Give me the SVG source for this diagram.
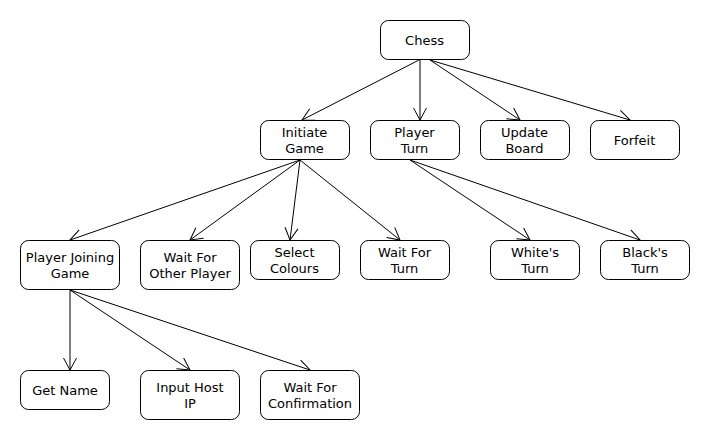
<svg xmlns="http://www.w3.org/2000/svg" width="710" height="440" viewBox="0 0 710 440">
<style>
.n rect{fill:#fff;stroke:#000;stroke-width:1}
.n text{font-family:"DejaVu Sans",sans-serif;font-size:13px;text-anchor:middle;fill:#000}
.e line{stroke:#000;stroke-width:1;fill:none;marker-end:url(#a)}
</style>
<defs>
<marker id="a" markerUnits="userSpaceOnUse" markerWidth="16" markerHeight="16" viewBox="-13 -8 16 16" refX="0" refY="0" orient="auto">
<path d="M-12,-6.5 L0,0 L-12,6.5" fill="none" stroke="#000" stroke-width="1"/>
</marker>
</defs>
<rect width="710" height="440" fill="#fff"/>
<g class="e">
<line x1="419" y1="60" x2="302" y2="120"/>
<line x1="420" y1="60" x2="420" y2="120"/>
<line x1="430" y1="60" x2="520" y2="120"/>
<line x1="430" y1="60" x2="630" y2="120"/>
<line x1="300" y1="160" x2="70" y2="240"/>
<line x1="300" y1="160" x2="190" y2="240"/>
<line x1="300" y1="160" x2="290" y2="240"/>
<line x1="300" y1="160" x2="400" y2="240"/>
<line x1="410" y1="160" x2="530" y2="240"/>
<line x1="410" y1="160" x2="640" y2="240"/>
<line x1="70" y1="290" x2="70" y2="370"/>
<line x1="70" y1="290" x2="190" y2="370"/>
<line x1="70" y1="290" x2="310" y2="370"/>
</g>
<g id="chess" class="n"><rect x="380.5" y="20.5" width="89" height="39" rx="8"/><text x="424.5" y="45">Chess</text></g>
<g id="initiate" class="n"><rect x="260.5" y="120.5" width="89" height="39" rx="8"/><text x="304.5" y="137">Initiate</text><text x="304.5" y="153">Game</text></g>
<g id="playerturn" class="n"><rect x="370.5" y="120.5" width="89" height="39" rx="8"/><text x="414.5" y="137">Player</text><text x="414.5" y="153">Turn</text></g>
<g id="update" class="n"><rect x="480.5" y="120.5" width="89" height="39" rx="8"/><text x="524.5" y="137">Update</text><text x="524.5" y="153">Board</text></g>
<g id="forfeit" class="n"><rect x="590.5" y="120.5" width="89" height="39" rx="8"/><text x="634.5" y="145">Forfeit</text></g>
<g id="joining" class="n"><rect x="20.5" y="240.5" width="99" height="49" rx="8"/><text x="70" y="262">Player Joining</text><text x="70" y="278">Game</text></g>
<g id="waitother" class="n"><rect x="140.5" y="240.5" width="99" height="49" rx="8"/><text x="190" y="262">Wait For</text><text x="190" y="278">Other Player</text></g>
<g id="select" class="n"><rect x="250.5" y="240.5" width="89" height="39" rx="8"/><text x="294.5" y="257">Select</text><text x="294.5" y="273">Colours</text></g>
<g id="waitturn" class="n"><rect x="360.5" y="240.5" width="89" height="39" rx="8"/><text x="404.5" y="257">Wait For</text><text x="404.5" y="273">Turn</text></g>
<g id="white" class="n"><rect x="490.5" y="240.5" width="89" height="39" rx="8"/><text x="535" y="257">White's</text><text x="535" y="273">Turn</text></g>
<g id="black" class="n"><rect x="600.5" y="240.5" width="89" height="39" rx="8"/><text x="645" y="257">Black's</text><text x="645" y="273">Turn</text></g>
<g id="getname" class="n"><rect x="20.5" y="370.5" width="89" height="39" rx="8"/><text x="65" y="395">Get Name</text></g>
<g id="inputip" class="n"><rect x="140.5" y="370.5" width="99" height="49" rx="8"/><text x="190" y="392">Input Host</text><text x="190" y="408">IP</text></g>
<g id="waitconf" class="n"><rect x="260.5" y="370.5" width="99" height="49" rx="8"/><text x="310" y="392">Wait For</text><text x="310" y="408">Confirmation</text></g>
</svg>
